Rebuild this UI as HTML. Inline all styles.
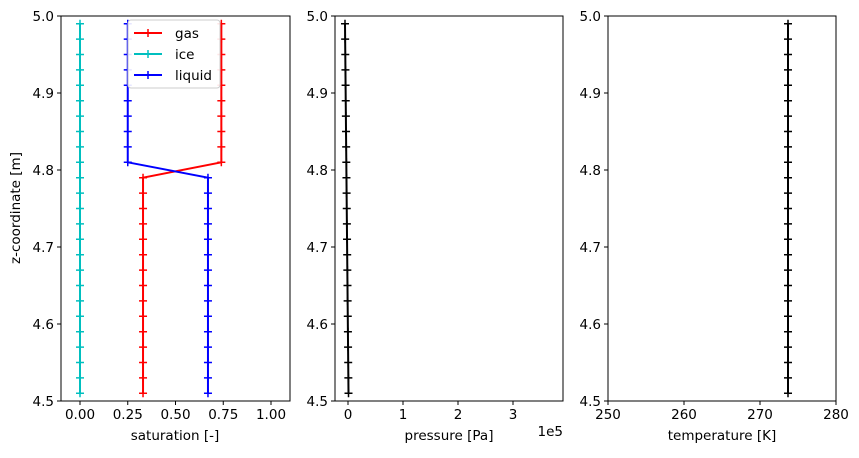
<!DOCTYPE html>
<html><head><meta charset="utf-8"><style>
body{margin:0;background:#fff}
text{font-family:"DejaVu Sans","Liberation Sans",sans-serif;font-size:13.5px;fill:#000}
</style></head><body>
<svg id="s" width="859" height="453" xmlns="http://www.w3.org/2000/svg"></svg>
<script>
const s=document.getElementById('s');let h='';
const Y=z=>16+(5-z)*770;
function axes(x0,x1){h+=`<rect x="${x0}" y="16" width="${x1-x0}" height="385" fill="none" stroke="#000" stroke-width="1"/>`;
 for(let i=0;i<=5;i++){const z=4.5+i*0.1,y=Y(z);h+=`<line x1="${x0-4}" x2="${x0}" y1="${y}" y2="${y}" stroke="#000"/><text x="${x0-7}" y="${y+5}" text-anchor="end">${z.toFixed(1)}</text>`;}}
function xt(x,l){h+=`<line x1="${x}" x2="${x}" y1="401" y2="405" stroke="#000"/><text x="${x}" y="419" text-anchor="middle">${l}</text>`;}
function series(pts,c){h+=`<polyline points="${pts.map(p=>p.join(',')).join(' ')}" fill="none" stroke="${c}" stroke-width="2"/>`;
 pts.forEach(p=>{h+=`<path d="M${p[0]-4},${p[1]}h8M${p[0]},${p[1]-4}v8" stroke="${c}" stroke-width="1.5"/>`;});}
const zs=[];for(let i=0;i<25;i++)zs.push(4.99-i*0.02);
axes(61,290);
const X1=v=>80+v*191;
[0,0.25,0.5,0.75,1].forEach(v=>xt(X1(v),v.toFixed(2)));
series(zs.map(z=>[X1(z>4.8?0.74:0.33),Y(z)]),'red');
series(zs.map(z=>[X1(0),Y(z)]),'#00bfbf');
series(zs.map(z=>[X1(z>4.8?0.25:0.67),Y(z)]),'blue');
h+=`<rect x="128" y="20" width="92" height="68" rx="3" fill="#fff" fill-opacity="0.9" stroke="#ccc"/>`;
[['gas','red'],['ice','#00bfbf'],['liquid','blue']].forEach((e,i)=>{const y=33+i*21;
 h+=`<line x1="134" x2="162" y1="${y}" y2="${y}" stroke="${e[1]}" stroke-width="2"/><path d="M144,${y}h8M148,${y-4}v8" stroke="${e[1]}" stroke-width="1.5"/><text x="175" y="${y+5}">${e[0]}</text>`;});
h+=`<text x="175" y="440" text-anchor="middle">saturation [-]</text>`;
h+=`<text transform="translate(20,208) rotate(-90)" text-anchor="middle">z-coordinate [m]</text>`;
axes(335,563);
[0,1,2,3].forEach(v=>xt(348+v*55,v));
series(zs.map(z=>[345+(4.99-z)/0.48*3.5,Y(z)]),'#000');
h+=`<text x="449" y="440" text-anchor="middle">pressure [Pa]</text><text x="563" y="436" text-anchor="end">1e5</text>`;
axes(608,836);
[250,260,270,280].forEach((v,i)=>xt(608+i*76,v));
series(zs.map(z=>[788,Y(z)]),'#000');
h+=`<text x="722" y="440" text-anchor="middle">temperature [K]</text>`;
s.innerHTML=h;
</script>
</body></html>
